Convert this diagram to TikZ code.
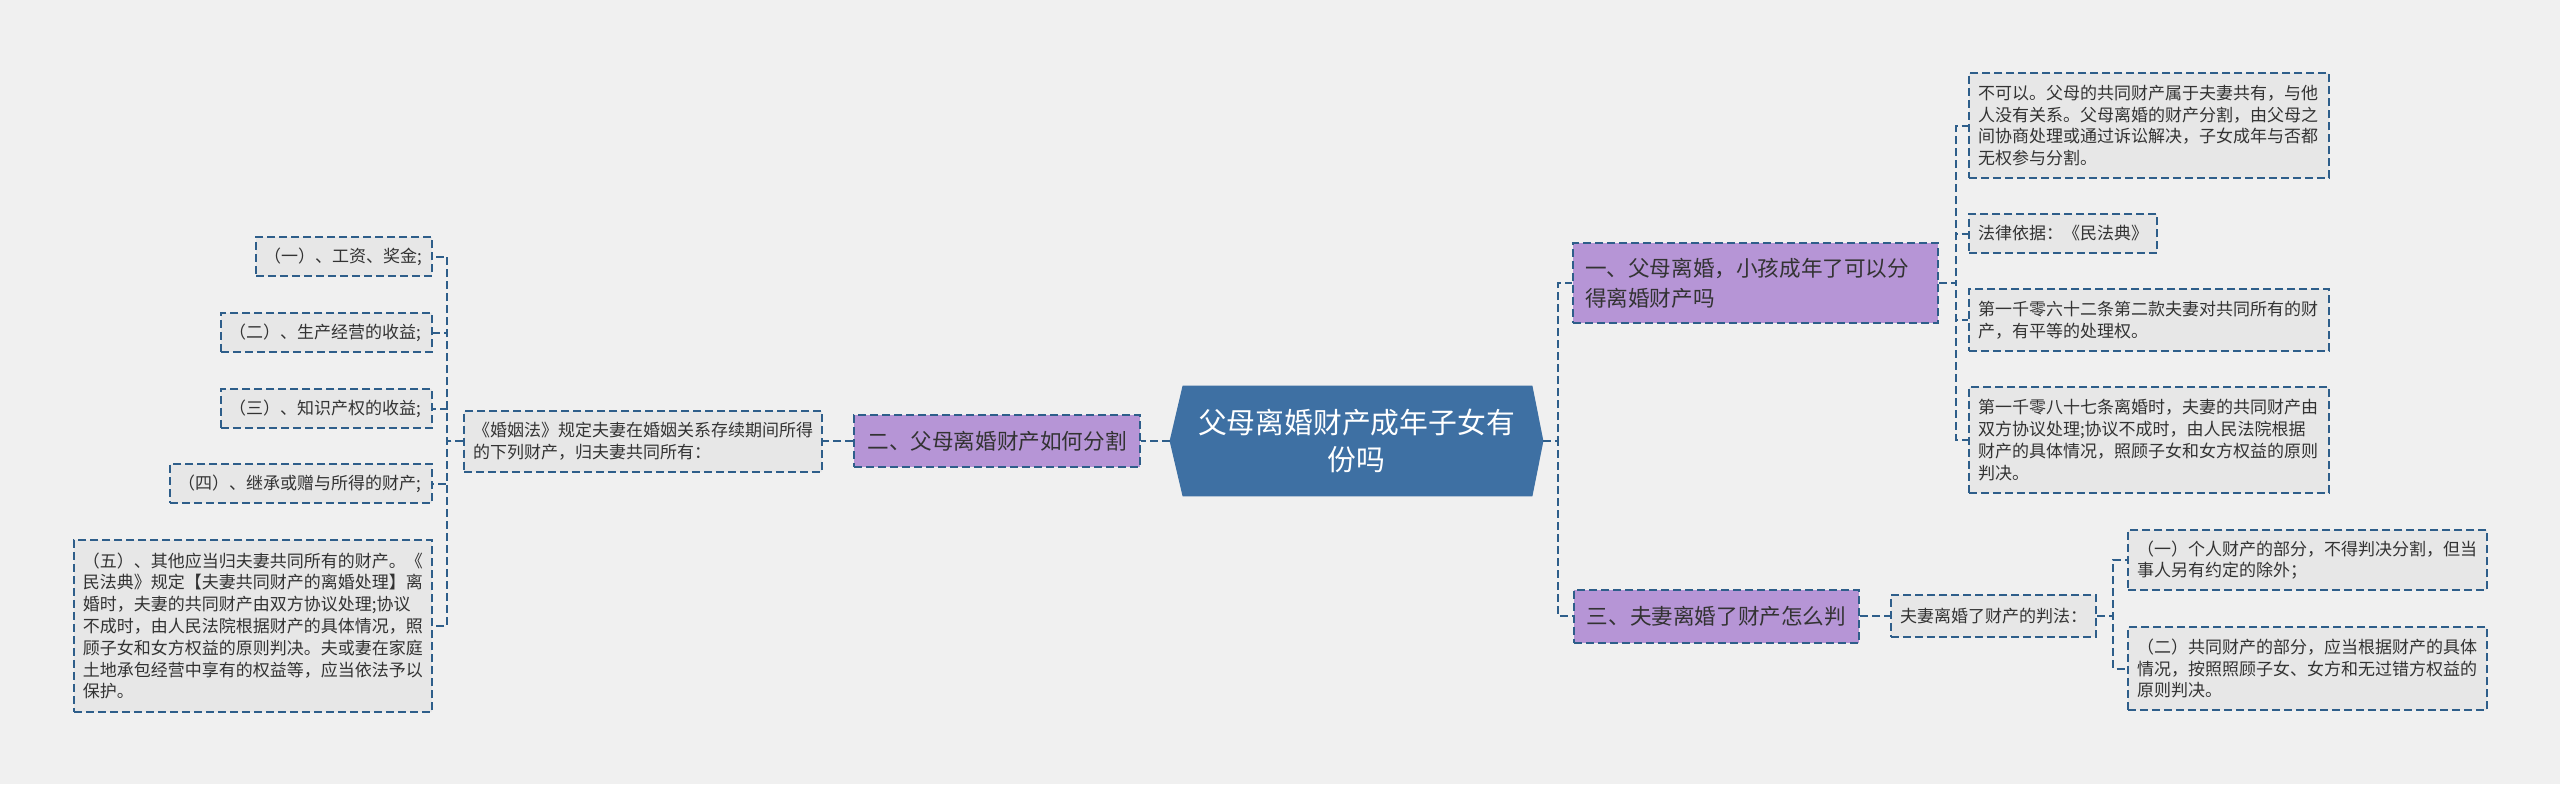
\documentclass[tikz,border=0pt]{standalone}
\usepackage{fontspec}
\newfontfamily\cjk{Noto Sans CJK SC}
\usetikzlibrary{calc,backgrounds}
\definecolor{bgc}{HTML}{F0F0F0}
\definecolor{linec}{HTML}{2E5E8A}
\definecolor{leaff}{HTML}{E7E7E7}
\definecolor{purp}{HTML}{B695D6}
\definecolor{rootc}{HTML}{3E70A3}
\definecolor{txt}{HTML}{333333}
\begin{document}
\begin{tikzpicture}[x=0.5pt,y=-0.5pt,
  conn/.style={draw=linec,line width=1pt,dash pattern=on 4pt off 2pt},
  leaf/.style={draw=linec,line width=1pt,dash pattern=on 4pt off 2pt,fill=leaff,inner xsep=4.5pt,inner ysep=0pt,align=left,text=txt,font=\cjk\fontsize{8.5}{10.9}\selectfont},
  branch/.style={draw=linec,line width=1pt,dash pattern=on 4pt off 2pt,fill=purp,inner xsep=6pt,inner ysep=0pt,align=left,text=txt,font=\cjk\fontsize{10.8}{15}\selectfont},
  rootn/.style={inner sep=0pt,align=center,text=white,font=\cjk\fontsize{14.4}{18.5}\selectfont}]
\useasboundingbox (0,0) rectangle (2560,784);

% root
\node[rootn, minimum width=186.5pt, minimum height=55pt, text width=180pt] (root) at (1356.5,441) {父母离婚财产成年子女有\\份吗};

% branches
\node[branch, text width=170.5pt, minimum height=40pt] (b1) at (1755.5,283) {一、父母离婚，小孩成年了可以分\\得离婚财产吗};
\node[branch, align=center, inner xsep=2pt, text width=139pt, minimum height=26pt] (b2) at (997,441) {二、父母离婚财产如何分割};
\node[branch, align=center, inner xsep=2pt, text width=138.5pt, minimum height=26.5pt] (b3) at (1716.5,616) {三、夫妻离婚了财产怎么判};

% right leaves of b1
\node[leaf, text width=171pt, minimum height=52.5pt] (l1a) at (2149,125.5) {不可以。父母的共同财产属于夫妻共有，与他\\人没有关系。父母离婚的财产分割，由父母之\\间协商处理或通过诉讼解决，子女成年与否都\\无权参与分割。};
\node[leaf, text width=85pt, minimum height=19.5pt] (l1b) at (2063,233.5) {法律依据：《民法典》};
\node[leaf, text width=171pt, minimum height=31pt] (l1c) at (2149,320) {第一千零六十二条第二款夫妻对共同所有的财\\产，有平等的处理权。};
\node[leaf, text width=171pt, minimum height=53pt] (l1d) at (2149,440) {第一千零八十七条离婚时，夫妻的共同财产由\\双方协议处理;协议不成时，由人民法院根据\\财产的具体情况，照顾子女和女方权益的原则\\判决。};

% b3 leaves
\node[leaf, text width=93.5pt, minimum height=21pt] (l3) at (1993.5,616) {夫妻离婚了财产的判法：};
\node[leaf, text width=170.5pt, minimum height=30pt] (l3a) at (2307.5,560) {（一）个人财产的部分，不得判决分割，但当\\事人另有约定的除外；};
\node[leaf, text width=170.5pt, minimum height=41.5pt] (l3b) at (2307.5,668.5) {（二）共同财产的部分，应当根据财产的具体\\情况，按照照顾子女、女方和无过错方权益的\\原则判决。};

% b2 leaves
\node[leaf, text width=170pt, minimum height=30.5pt] (l2) at (643,441) {《婚姻法》规定夫妻在婚姻关系存续期间所得\\的下列财产，归夫妻共同所有：};
\node[leaf, anchor=east, inner xsep=4pt, text width=80pt, minimum height=19.5pt] (l2a) at (433,256.5) {（一）、工资、奖金;};
\node[leaf, anchor=east, inner xsep=4pt, text width=97.5pt, minimum height=19.5pt] (l2b) at (433,332.5) {（二）、生产经营的收益;};
\node[leaf, anchor=east, inner xsep=4pt, text width=97.5pt, minimum height=19.5pt] (l2c) at (433,408.5) {（三）、知识产权的收益;};
\node[leaf, anchor=east, inner xsep=4pt, text width=123pt, minimum height=19.5pt] (l2d) at (433,483.5) {（四）、继承或赠与所得的财产;};
\node[leaf, anchor=east, text width=170pt, minimum height=86pt] (l2e) at (433,626) {（五）、其他应当归夫妻共同所有的财产。《\\民法典》规定【夫妻共同财产的离婚处理】离\\婚时，夫妻的共同财产由双方协议处理;协议\\不成时，由人民法院根据财产的具体情况，照\\顾子女和女方权益的原则判决。夫或妻在家庭\\土地承包经营中享有的权益等，应当依法予以\\保护。};

\begin{scope}[on background layer]
\fill[bgc] (0,0) rectangle (2560,784);
\fill[rootc] (root.west) -- ($(root.north west)+(13,0)$) -- ($(root.north east)+(-11,0)$) -- (root.east) -- ($(root.south east)+(-11,0)$) -- ($(root.south west)+(13,0)$) -- cycle;
\end{scope}

% connectors
\draw[conn] (root.east) -- ++(15,0) |- (b1.west);
\draw[conn] (root.east) -- ++(15,0) |- (b3.west);
\draw[conn] (root.west) -- (b2.east);
\draw[conn] (b2.west) -- (l2.east);
\foreach \t in {l2a,l2b,l2c,l2d,l2e} \draw[conn] (l2.west) -- ++(-16,0) |- (\t.east);
\foreach \t in {l1a,l1b,l1c,l1d} \draw[conn] (b1.east) -- ++(17,0) |- (\t.west);
\draw[conn] (b3.east) -- (l3.west);
\foreach \t in {l3a,l3b} \draw[conn] (l3.east) -- ++(16,0) |- (\t.west);
\end{tikzpicture}
\end{document}
